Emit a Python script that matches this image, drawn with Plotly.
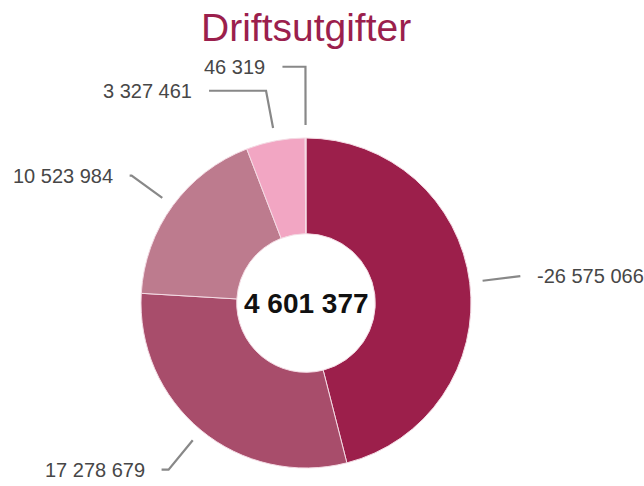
import math
import plotly.graph_objects as go

# ---- data ----
categories = ["A", "B", "C", "D", "E"]
values = [-26575066, 17278679, 10523984, 3327461, 46319]
colors = ["#9c1f4b", "#a84d6b", "#bd7b8e", "#f2a6c3", "#f7c9da"]
title_text = "Driftsutgifter"

W, H = 644, 486
CX, CY, R = 306, 303, 165          # pie centre / radius in pixels (top-down)
R1, R2 = 178, 216                   # leader line radii
HSEG = [0, 7, 2, 57, 23]            # horizontal leader segment lengths (style)
GAP = 15
SPACING = 24


def fmt(v):
    s = f"{abs(v):,}".replace(",", " ")
    return ("-" if v < 0 else "") + s


sizes = [abs(v) for v in values]
total = sum(sizes)
center_value = sum(values)

fig = go.Figure(go.Pie(
    labels=categories, values=sizes, sort=False, direction="clockwise",
    rotation=0, hole=0.42, textinfo="none", hoverinfo="none",
    marker=dict(colors=colors, line=dict(color="#f4dbe4", width=1)),
    domain=dict(x=[(CX - R) / W, (CX + R) / W],
                y=[(H - CY - R) / H, (H - CY + R) / H]),
    showlegend=False,
))


def px(x):
    return x / W


def py(y):
    return 1 - y / H


# leader line layout computed from the slice angles
items = []
cum = 0.0
for v, s in zip(values, sizes):
    mid = (cum + s / 2) / total * 2 * math.pi
    cum += s
    sx, sy = CX + R1 * math.sin(mid), CY - R1 * math.cos(mid)
    ex, ey = CX + R2 * math.sin(mid), CY - R2 * math.cos(mid)
    items.append(dict(v=v, sx=sx, sy=sy, ex=ex, ey=ey, right=math.sin(mid) > 0))

# simple collision avoidance per side (push upwards)
for side in (True, False):
    idx = [i for i, it in enumerate(items) if it["right"] == side]
    idx.sort(key=lambda i: -items[i]["ey"])
    prev = None
    for i in idx:
        if prev is not None and items[i]["ey"] > prev - SPACING:
            items[i]["ey"] = prev - SPACING
        prev = items[i]["ey"]

shapes = []
annotations = []
for i, it in enumerate(items):
    dirx = 1 if it["right"] else -1
    hx = it["ex"] + dirx * HSEG[i]
    path = (f"M {px(it['sx'])},{py(it['sy'])} L {px(it['ex'])},{py(it['ey'])} "
            f"L {px(hx)},{py(it['ey'])}")
    shapes.append(dict(type="path", xref="paper", yref="paper", path=path,
                       line=dict(color="#888888", width=2.2)))
    annotations.append(dict(
        x=px(hx + dirx * GAP), y=py(it["ey"]), xref="paper", yref="paper",
        text=fmt(it["v"]), showarrow=False,
        xanchor="left" if it["right"] else "right", yanchor="middle",
        font=dict(family="Liberation Sans, Arial", size=20, color="#474747")))

annotations.append(dict(
    x=px(CX), y=py(CY), xref="paper", yref="paper", text=f"<b>{fmt(center_value)}</b>",
    showarrow=False, xanchor="center", yanchor="middle",
    font=dict(family="Liberation Sans, Arial", size=28, color="#111111")))

annotations.append(dict(
    x=px(CX), y=py(27), xref="paper", yref="paper", text=title_text,
    showarrow=False, xanchor="center", yanchor="middle",
    font=dict(family="Liberation Sans, Arial", size=39, color="#9b1f4d")))

fig.update_layout(
    width=W, height=H, margin=dict(l=0, r=0, t=0, b=0),
    paper_bgcolor="white", plot_bgcolor="white",
    shapes=shapes, annotations=annotations,
)

fig.write_html("out.html", config={"displayModeBar": False},
               post_script="document.body.style.margin='0';")
